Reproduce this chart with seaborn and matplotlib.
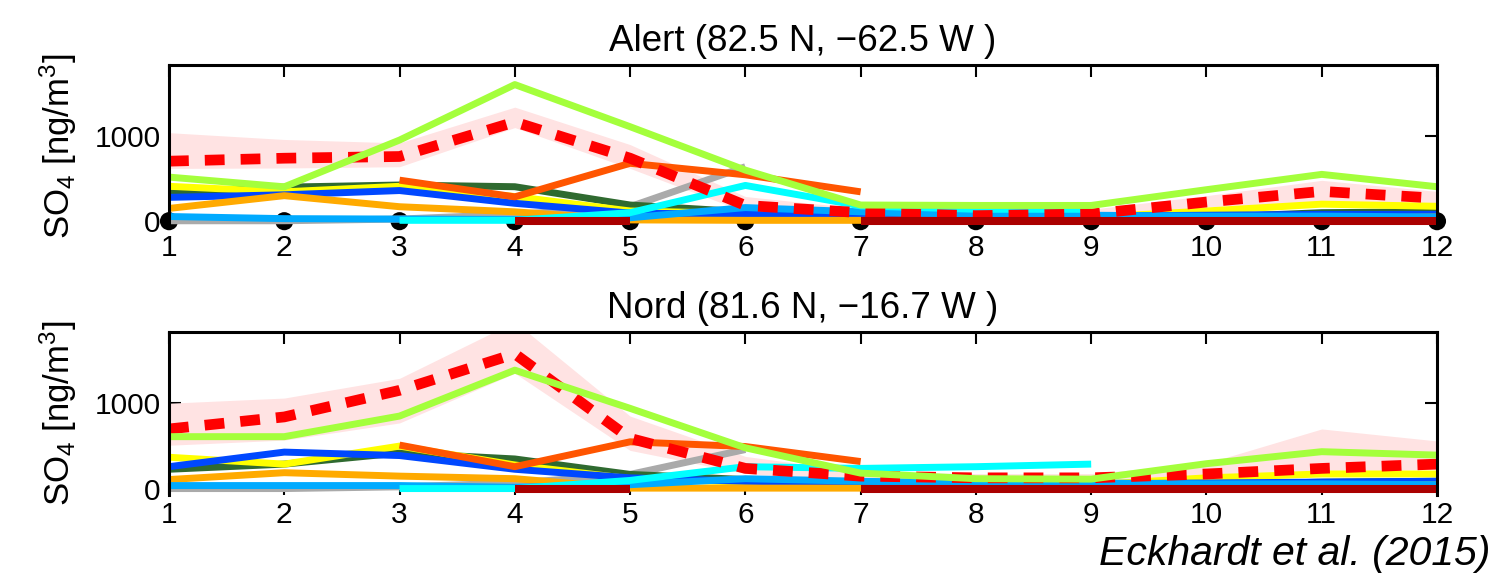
import numpy as np
import pandas as pd
import matplotlib
matplotlib.use("Agg")
import matplotlib.pyplot as plt
import seaborn as sns
from matplotlib import font_manager

nan = np.nan

# ---------------- data ----------------
MONTHS = list(range(1, 13))
X_TICK_LABELS = [str(m) for m in MONTHS]
Y_TICKS = [0, 1000]

ALERT_TITLE = "Alert (82.5 N, \u221262.5 W )"
NORD_TITLE = "Nord (81.6 N, \u221216.7 W )"
Y_LABEL = "SO$_4$ [ng/m$^3$]"
CREDIT = "Eckhardt et al. (2015)"

# Alert (upper panel)
alert_obs = [705, 740, 760, 1165, 740, 185, 100, 65, 85, 225, 350, 270]
alert_obs_lo = [620, 625, 640, 1100, 620, 110, 50, 20, 40, 170, 220, 200]
alert_obs_hi = [1040, 960, 920, 1340, 900, 290, 150, 120, 140, 300, 480, 350]
alert_lime = [518, 404, 953, 1605, 1110, 600, 190, 185, 185, 370, 550, 405]
alert_orangered = [nan, nan, 482, 286, 680, 545, 345, nan, nan, nan, nan, nan]
alert_gray = [5, 5, 25, 80, 170, 640, nan, nan, nan, nan, nan, nan]
alert_cyan = [nan, nan, 10, 10, 100, 420, 180, 140, 140, nan, nan, nan]
alert_darkgreen = [330, 400, 425, 405, 190, 110, 70, 60, 50, 45, 100, 110]
alert_yellow = [410, 345, 410, 290, 120, 90, 70, 60, 45, 120, 200, 175]
alert_blue = [280, 310, 360, 210, 95, 80, 70, 65, 60, 70, 80, 80]
alert_orange = [150, 300, 170, 110, 15, 10, 10, 15, 15, 20, 30, 50]
alert_azure = [55, 30, 25, 20, 40, 160, 110, 80, 70, 60, 60, 50]
alert_darkred = [nan, nan, nan, 0, 0, nan, 0, 0, 0, 0, 0, 0]
alert_station = [0] * 12

# Nord (lower panel)
nord_obs = [700, 840, 1150, 1575, 590, 240, 150, 130, 130, 175, 240, 290]
nord_obs_lo = [510, 570, 770, 1350, 450, 180, 90, 60, 60, 100, 200, 230]
nord_obs_hi = [1000, 1060, 1290, 1950, 850, 380, 200, 180, 180, 300, 700, 560]
nord_lime = [610, 610, 850, 1385, 940, 480, 185, 120, 115, 295, 435, 395]
nord_orangered = [nan, nan, 512, 260, 550, 495, 320, nan, nan, nan, nan, nan]
nord_gray = [5, 5, 25, 70, 170, 460, nan, nan, nan, nan, nan, nan]
nord_cyan = [nan, nan, 5, 5, 100, 260, 240, 260, 290, nan, nan, nan]
nord_darkgreen = [230, 290, 420, 350, 170, 110, 80, 60, 50, 50, 80, 90]
nord_yellow = [370, 290, 500, 280, 120, 80, 60, 40, 50, 130, 175, 175]
nord_blue = [260, 430, 390, 230, 130, 90, 70, 60, 60, 70, 80, 90]
nord_orange = [110, 190, 150, 120, 10, 10, 10, 15, 20, 25, 35, 50]
nord_azure = [40, 40, 40, 20, 50, 120, 90, 70, 70, 60, 60, 50]
nord_darkred = [nan, nan, nan, 0, 0, nan, 0, 0, 0, 0, 0, 0]

# ---------------- styles ----------------
COLORS = {
    "gray": "#AAAAAA", "darkgreen": "#2F6A30", "yellow": "#FFFF00",
    "blue": "#0048FF", "orange": "#FFAA00", "azure": "#00AAFF",
    "cyan": "#00FFFF", "orangered": "#FF5500", "lime": "#A4FF3C",
    "darkred": "#AA0000", "obs": "#FF0000", "band": "#FFE3E3",
}
ORDER = ["gray", "darkgreen", "yellow", "blue", "orange", "azure",
         "cyan", "orangered", "obs", "lime", "darkred"]

sns.set_style("ticks")
names = {f.name for f in font_manager.fontManager.ttflist}
NARROW = "Liberation Sans Narrow" if "Liberation Sans Narrow" in names else "Liberation Sans"
plt.rcParams["font.family"] = [NARROW, "DejaVu Sans"]
plt.rcParams["mathtext.fontset"] = "custom"
plt.rcParams["mathtext.rm"] = "Liberation Sans"
plt.rcParams["mathtext.it"] = "Liberation Sans:italic"
plt.rcParams["mathtext.bf"] = "Liberation Sans:bold"
plt.rcParams["text.color"] = "black"
plt.rcParams["axes.labelcolor"] = "black"
plt.rcParams["xtick.color"] = "black"
plt.rcParams["ytick.color"] = "black"

W, H = 1498, 574
fig = plt.figure(figsize=(W / 100, H / 100), dpi=100)


def frac_rect(l, t, r, b):
    return [l / W, 1 - b / H, (r - l) / W, (b - t) / H]


def draw_series(ax, values, key):
    df = pd.DataFrame({"month": MONTHS, "value": values})
    df["seg"] = df["value"].isna().cumsum()
    df = df.dropna()
    if key == "obs":
        kw = dict(color=COLORS[key], linestyle=(0, (1.85, 1.5)),
                  dash_capstyle="butt")
        lw = 7.7
    else:
        kw = dict(color=COLORS[key], solid_capstyle="butt")
        lw = 5.8 if key == "darkred" else 5.0
    for _, part in df.groupby("seg"):
        if len(part) < 2:
            continue
        sns.lineplot(data=part, x="month", y="value", ax=ax, lw=lw,
                     estimator=None, sort=True, legend=False, zorder=2, **kw)


def panel(rect, title, ylim, series, lo, hi, dots):
    ax = fig.add_axes(rect)
    ax.set_axisbelow(True)
    ax.fill_between(MONTHS, lo, hi, color=COLORS["band"], lw=0, zorder=1)
    if dots is not None:
        sns.scatterplot(x=MONTHS, y=dots, ax=ax, color="black", s=170,
                        edgecolor="none", zorder=1.8, clip_on=False, legend=False)
    for key in ORDER:
        draw_series(ax, series[key], key)
    ax.set_xlim(1, 12)
    ax.set_ylim(*ylim)
    ax.set_xticks(MONTHS)
    ax.set_xticklabels(X_TICK_LABELS)
    ax.set_yticks(Y_TICKS)
    ax.set_xlabel("")
    ax.set_ylabel(Y_LABEL, fontsize=25, family=["Liberation Sans", "DejaVu Sans"])
    ax.yaxis.set_label_coords(-0.071, 0.5)
    ax.tick_params(direction="in", length=8.6, width=1.5, top=True, right=True,
                   labelsize=21.5, colors="black")
    ax.tick_params(axis="x", pad=4)
    ax.tick_params(axis="y", pad=6)
    for s in ["top", "left", "right"]:
        ax.spines[s].set_linewidth(2.2)
        ax.spines[s].set_color("black")
        ax.spines[s].set_zorder(3)
    ax.spines["bottom"].set_visible(False)
    ax.set_title(title, fontsize=26.5, pad=10)
    return ax


alert_series = {"gray": alert_gray, "darkgreen": alert_darkgreen, "yellow": alert_yellow,
                "blue": alert_blue, "orange": alert_orange, "azure": alert_azure,
                "cyan": alert_cyan, "orangered": alert_orangered, "obs": alert_obs,
                "lime": alert_lime, "darkred": alert_darkred}
nord_series = {"gray": nord_gray, "darkgreen": nord_darkgreen, "yellow": nord_yellow,
               "blue": nord_blue, "orange": nord_orange, "azure": nord_azure,
               "cyan": nord_cyan, "orangered": nord_orangered, "obs": nord_obs,
               "lime": nord_lime, "darkred": nord_darkred}

panel(frac_rect(169, 65, 1437, 228), ALERT_TITLE, (-80, 1835), alert_series,
      alert_obs_lo, alert_obs_hi, alert_station)
panel(frac_rect(169, 332, 1437, 495), NORD_TITLE, (-70, 1830), nord_series,
      nord_obs_lo, nord_obs_hi, None)

fig.text(1490 / W, 1 - 565 / H, CREDIT, ha="right", va="baseline", fontsize=29.5,
         style="italic", family=["Liberation Sans", "DejaVu Sans"])

fig.savefig("out.png", dpi=100)
